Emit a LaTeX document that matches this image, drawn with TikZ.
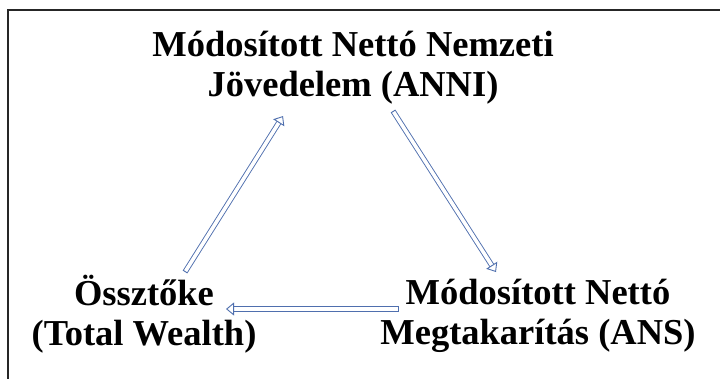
\documentclass[tikz,border=0pt]{standalone}
\usepackage{fontspec}
\setmainfont{Liberation Serif}
\usepackage{tikz}
\usepackage{xcolor}
\usetikzlibrary{arrows.meta,positioning,calc}
\definecolor{ink}{HTML}{000000}
\definecolor{frameink}{HTML}{262626}
\definecolor{flowblue}{HTML}{4F6FAE}
\tikzset{
  caption/.style={
    align=center, inner sep=0pt, text=ink,
    font=\fontsize{36.5bp}{40.3bp}\selectfont\bfseries
  },
  flow/.style={
    draw=flowblue, line width=0.9bp, double=white, double distance=3.6bp,
    {Bar[width=5.4bp,line width=0.9bp,sep=0pt]}-{Triangle[open,width=13bp,length=8bp,line width=0.9bp,fill=white]}
  },
  pageframe/.style={draw=frameink, line width=2bp}
}

\begin{document}
\begin{tikzpicture}[x=1bp,y=-1bp]
  \useasboundingbox (0,0) rectangle (720,378);
  \draw[pageframe] (8,380) -- (8,10) -- (722,10);

  \node[caption] (anni) at (353,68) {Módosított Nettó Nemzeti\\Jövedelem (ANNI)};
  \node[caption] (vagyon) at (144,314) {Össztőke\\(Total Wealth)};
  \node[caption] (ans) at (538,316) {Módosított Nettó\\Megtakarítás (ANS)};

  % kör: vagyon -> jövedelem -> megtakarítás -> vagyon
  \draw[flow] ($(vagyon)+(41,-42)$) -- ($(anni)+(-70,48)$);
  \draw[flow] ($(anni)+(40,43)$) -- ($(ans)+(-42,-44)$);
  \draw[flow] ($(ans)+(-139,-7)$) -- ($(vagyon)+(82,-5)$);
\end{tikzpicture}
\end{document}
